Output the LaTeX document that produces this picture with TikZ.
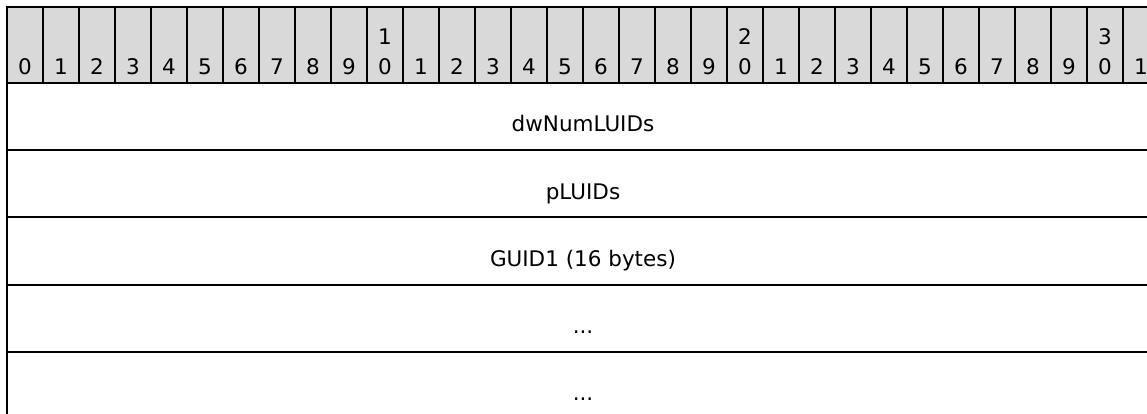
\documentclass[tikz,border=0pt]{standalone}
\usepackage{fontspec}
\setmainfont{DejaVu Sans}
\definecolor{headgray}{RGB}{217,217,217}
\tikzset{
bitcell/.style={shape=rectangle, draw=black, fill=headgray, line width=1.8pt, minimum width=36pt, minimum height=76pt, inner sep=0pt},
bitnum/.style={anchor=south, inner sep=0pt, text depth=0pt, align=center, font=\fontsize{21.5}{30}\selectfont},
field/.style={shape=rectangle, draw=black, line width=2pt, minimum width=1152pt, minimum height=67.2pt, inner sep=0pt, text height=31pt, text depth=0.2pt, font=\fontsize{21.5}{26}\selectfont}}

\begin{document}
\begin{tikzpicture}[x=1pt,y=-1pt]
    \useasboundingbox (0,0) rectangle (1147,414);
    \clip (0,0) rectangle (1147,414);

                % header with the bit numbers
                \foreach \i in {0,...,31} {
                    \node[bitcell] (b\i) at ({25+36*\i},45) {};
                    \pgfmathtruncatemacro{\tens}{\i/10}
                    \pgfmathtruncatemacro{\units}{mod(\i,10)}
                    \ifnum\i>0 \ifnum\units=0
                        \node[bitnum] (n\i) at ({25+36*\i},75) {\tens\\\units};
                    \else
                        \node[bitnum] (n\i) at ({25+36*\i},75) {\units};
                    \fi \else
                        \node[bitnum] (n\i) at ({25+36*\i},75) {\units};
                    \fi
                }

                % fields
                \node[field] (numluids) at (583,116.6) {dwNumLUIDs};
                \node[field] (pluids) at (583,183.8) {pLUIDs};
                \node[field] (guid) at (583,251) {GUID1 (16 bytes)};
                \node[field] (dots1) at (583,318.2) {...};
                \node[field] (dots2) at (583,385.4) {...};

            \end{tikzpicture}
\end{document}
